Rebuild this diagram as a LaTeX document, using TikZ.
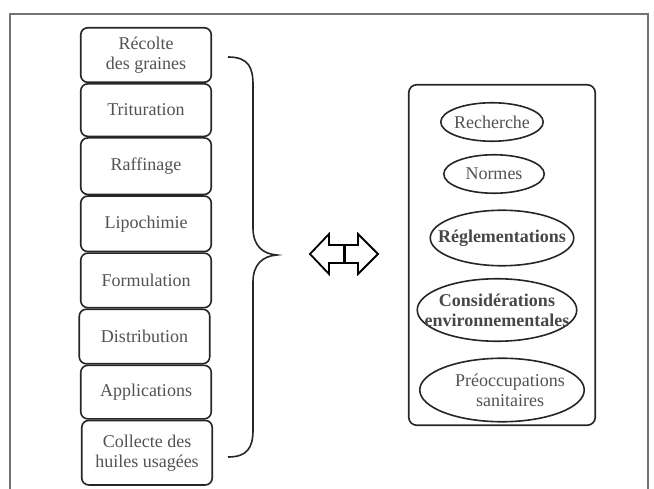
\documentclass[tikz,border=0pt]{standalone}
\usepackage{fontspec}
\setmainfont{Liberation Serif}
\usetikzlibrary{positioning,shapes.geometric}

\begin{document}
\begin{tikzpicture}[x=1pt,y=-1pt,node distance=0pt,
  etape/.style={draw=black!85,line width=1.6pt,rounded corners=7pt,minimum width=130.5pt,
    inner sep=0pt,text=black!68,align=center,font=\fontsize{18}{20}\selectfont},
  oval/.style={draw=black!85,line width=1.6pt,ellipse,inner sep=0pt},
  ovaltxt/.style={text=black!68,align=center,font=\fontsize{18}{20}\selectfont},
  ovalgras/.style={ovaltxt,text=black!72,font=\fontsize{18}{20}\selectfont\bfseries}]
\useasboundingbox (0,0) rectangle (654,489);
\draw[black!55,line width=1.1pt] (648,489) -- (648,14) -- (10,14) -- (10,489);

% filiere
\node[etape,minimum height=54.5pt] (e1) at (146,55) {Récolte\\des graines};
\node[etape,minimum height=52.5pt,below=of e1] (e2) {Trituration};
\node[etape,minimum height=56.5pt,below=of e2] (e3) {Raffinage};
\node[etape,minimum height=55.5pt,below=of e3] (e4) {Lipochimie};
\node[etape,minimum height=54.5pt,below=of e4] (e5) {Formulation};
\node[etape,minimum height=54.5pt,below=of e5,xshift=-1.5pt] (e6) {Distribution};
\node[etape,minimum height=53.5pt,below=of e6,xshift=1.5pt] (e7) {Applications};
\node[etape,minimum height=64.5pt,below=of e7,xshift=1pt] (e8) {Collecte des\\huiles usagées};

% accolade
\draw[black!85,line width=1.6pt] (228,57) .. controls (249,57) and (253,68) .. (253,85)
  -- (253,228) .. controls (253,245) and (262,254) .. (277,255)
  .. controls (262,256) and (253,265) .. (253,282)
  -- (253,430) .. controls (253,448) and (247,457) .. (228,457);

% double fleche
\draw[line width=1.8pt,line join=miter] (310,254) -- (329,234) -- (329,245) -- (358,245) -- (358,234)
  -- (378,254) -- (358,274) -- (358,263) -- (329,263) -- (329,274) -- cycle;
\draw[line width=3pt] (344,245) -- (344,263);

% cadre
\node[draw=black!85,line width=1.6pt,rounded corners=8pt,minimum width=186.5pt,
  minimum height=340.5pt] (cadre) at (502,255) {};
\node[oval,minimum width=102.5pt,minimum height=38.5pt,
  label={[ovaltxt]center:Recherche}] (rech) at (492,122) {};
\node[oval,minimum width=100.5pt,minimum height=38.5pt,
  label={[ovaltxt]center:Normes}] (norm) at (494,174) {};
\node[oval,minimum width=143.5pt,minimum height=55.5pt,
  label={[ovalgras]center:Réglementations}] (regl) at (502,238) {};
\node[oval,minimum width=159.5pt,minimum height=62.5pt,
  label={[ovalgras]center:{Considérations\\environnementales}}] (envi) at (497,310) {};
\node[oval,minimum width=164.5pt,minimum height=63.5pt,
  label={[ovaltxt,xshift=8pt]center:{Préoccupations\\sanitaires}}] (sant) at (502,390) {};
\end{tikzpicture}
\end{document}
